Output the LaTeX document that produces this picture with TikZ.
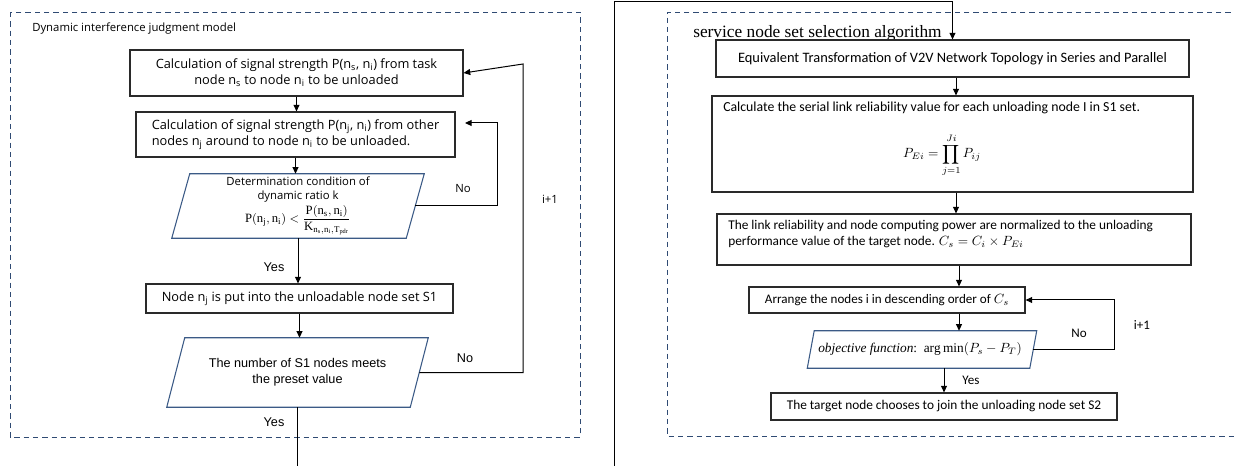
\documentclass[tikz,border=0pt]{standalone}
\usepackage{fontspec}
\usepackage{amsmath}
\setmainfont{Liberation Serif}
\newfontfamily\lfont{Open Sans}
\newfontfamily\rfont{Carlito}
\newfontfamily\afont{Liberation Sans}
\usetikzlibrary{arrows.meta}
\definecolor{dashc}{HTML}{2F4A73}
\definecolor{parac}{HTML}{3B5A86}
\definecolor{boxc}{HTML}{2A2A2A}
\newcommand\drawpara[2]{\draw[parac, line width=0.8pt] ([xshift=#2]#1.north west) -- ([xshift=#2]#1.north east) -- ([xshift=-#2]#1.south east) -- ([xshift=-#2]#1.south west) -- cycle;}
\begin{document}
\begin{tikzpicture}[x=0.75pt,y=-0.75pt,
 box/.style={draw=boxc, line width=0.85pt, inner sep=0pt},
 pbox/.style={inner sep=0pt},
 arr/.style={-{Triangle[length=5pt,width=4.5pt]}, line width=0.75pt},
 ln/.style={line width=0.75pt},
 frame/.style={draw=dashc, line width=0.7pt, dash pattern=on 4pt off 3pt},
 lt/.style={font=\lfont\fontsize{8.5}{12}\selectfont},
 lb/.style={font=\lfont\fontsize{9.6}{12}\selectfont},
 rt/.style={font=\rfont\fontsize{9.8}{12}\selectfont},
 rtt/.style={font=\rfont\fontsize{10}{12}\selectfont},
 aft/.style={font=\afont\fontsize{9.5}{12}\selectfont}]
\useasboundingbox (0,0) rectangle (1234,466);
% frames
\draw[frame] (10,12) rectangle (580,437);
\draw[frame] (1240,12) -- (667,12) -- (667,436) -- (1240,436);

% ---------- left panel ----------
\node[lt, anchor=west, inner sep=0pt] (ltitle) at (32,29) {Dynamic interference judgment model};
\node[box, lb, minimum width=249.75pt, minimum height=34.5pt, align=center] (b1) at (296.5,73)
 {Calculation of signal strength P(n\textsubscript{s}, n\textsubscript{i}) from task\\node n\textsubscript{s} to node n\textsubscript{i} to be unloaded};
\node[box, lb, minimum width=239.25pt, minimum height=33.75pt, align=left] (b2) at (295.5,134.5)
 {Calculation of signal strength P(n\textsubscript{j}, n\textsubscript{i}) from other\\nodes n\textsubscript{j} around to node n\textsubscript{i} to be unloaded.};
\node[pbox, font=\lfont\fontsize{8.5}{10.5}\selectfont, minimum width=175.5pt, minimum height=48pt, align=center] (p1) at (298,206)
 {Determination condition of\\dynamic ratio k\\[1.5pt]
 {\fontsize{9.5}{10}\selectfont$\mathrm{P}(\mathrm{n_j},\mathrm{n_i})<\dfrac{\mathrm{P}(\mathrm{n_s},\mathrm{n_i})}{\mathrm{K}_{\mathrm{n_s},\mathrm{n_i},\mathrm{T_{pdr}}}}$}};
\drawpara{p1}{6.75pt}
\node[box, lb, minimum width=230.25pt, minimum height=21.75pt] (b3) at (299.5,298.5)
 {Node n\textsubscript{j} is put into the unloadable node set S1};
\node[pbox, aft, minimum width=182.25pt, minimum height=51.75pt, align=center] (p2) at (297.5,372.5)
 {The number of S1 nodes meets\\the preset value};
\drawpara{p2}{6.75pt}

\draw[arr] (b1.south) -- (b1.south |- b2.north);
\draw[arr] (b2.south) -- (b2.south |- p1.north);
\draw[arr] (p1.south) -- (p1.south |- b3.north);
\draw[arr] (b3.south) -- (b3.south |- p2.north);
\coordinate (lbot) at (295,470);
\draw[ln] (p2.south) -- (p2.south |- lbot);
\node[aft] (y1) at (274,267) {Yes};
\node[aft] (y2) at (274,422) {Yes};

\coordinate (n1) at (497,123);
\coordinate (n1e) at (465,123);
\draw[arr] (p1.east) -| (n1) -- (n1e);
\node[lt] (no1) at (463,189) {No};
\coordinate (n2) at (523,64);
\draw[arr] (p2.east) -| (n2) -- (b1.east);
\node[aft] (no2) at (465,358) {No};
\node[lt] (ip1) at (550,199) {i+1};

% ---------- right panel ----------
\node[anchor=west, inner sep=0pt, font=\fontsize{13}{15}\selectfont] (rtitle) at (693,33) {service node set selection algorithm};
\node[box, font=\rfont\fontsize{10.8}{13}\selectfont, minimum width=354.75pt, minimum height=27.75pt] (eq) at (952.5,58.5)
 {Equivalent Transformation of V2V Network Topology in Series and Parallel};
\node[box, minimum width=360.75pt, minimum height=72pt] (calc) at (952.5,144) {};
\node[font=\rfont\fontsize{10.35}{12}\selectfont, anchor=west, inner sep=0pt] (calct) at (723,108)
 {Calculate the serial link reliability value for each unloading node I in S1 set.};
\node[inner sep=0pt] (calcf) at (942,155) {$P_{Ei}=\displaystyle\prod_{j=1}^{Ji}P_{ij}$};
\node[box, minimum width=355.5pt, minimum height=38.25pt] (norm) at (954,239.5) {};
\node[rtt, anchor=west, align=left, inner sep=0pt] (normt) at (728,234)
 {The link reliability and node computing power are normalized to the unloading\\performance value of the target node. $C_s=C_i\times P_{Ei}$};
\node[box, rt, minimum width=207pt, minimum height=19.5pt] (arrg) at (887,300)
 {Arrange the nodes i in descending order of $C_s$};
\node[pbox, minimum width=166.5pt, minimum height=27.75pt] (obj) at (922,349.5) {};
\drawpara{obj}{2.6pt}
\node[font=\fontsize{10}{12}\selectfont, inner sep=0pt] (objt) at (920,349.5)
 {\itshape objective function\upshape:\ \ $\arg\min(P_s-P_T)$};
\node[box, rtt, minimum width=259.5pt, minimum height=20.25pt] (tg) at (944,406.5)
 {The target node chooses to join the unloading node set S2};

\coordinate (rc) at (956,0);
\coordinate (rc2) at (959,0);
\draw[arr] (eq.south -| rc) -- (calc.north -| rc);
\draw[arr] (calc.south -| rc) -- (norm.north -| rc);
\draw[arr] (norm.south -| rc2) -- (arrg.north -| rc2);
\draw[arr] (arrg.south -| rc2) -- (obj.north -| rc2);
\draw[arr] (obj.south -| tg.north) -- (tg.north);
\node[rt] (y3) at (971,380) {Yes};
\coordinate (n3) at (1114,0);
\draw[arr] (obj.east) -| (n3 |- arrg.east) -- (arrg.east);
\node[rt] (no3) at (1079,333) {No};
\node[rt] (ip2) at (1142,325) {i+1};

% outer connector
\coordinate (ob) at (614,470);
\coordinate (ot) at (614,2);
\draw[arr] (ob) -- (ot) -| (eq.north);
\end{tikzpicture}
\end{document}
